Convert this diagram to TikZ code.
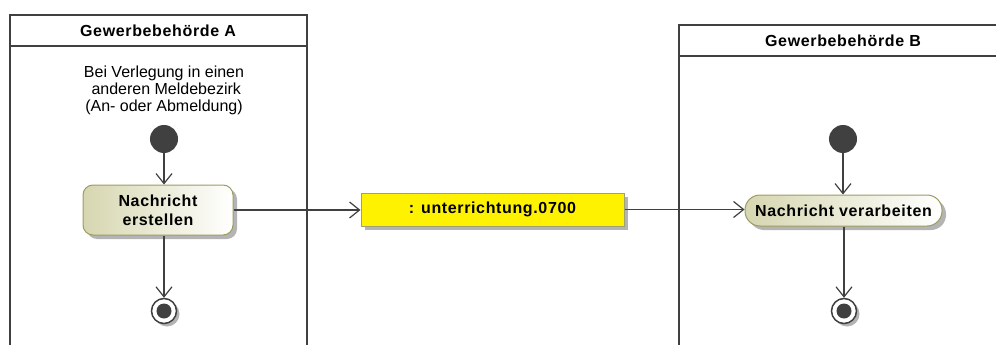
\documentclass[tikz,border=0pt]{standalone}
\usepackage{fontspec}
\setmainfont{Liberation Sans}
\newfontfamily\wideSans[LetterSpace=4]{Liberation Sans}
\usetikzlibrary{arrows.meta,shadows}

\definecolor{lanegray}{HTML}{404040}
\definecolor{actionfill}{HTML}{D6D6B0}
\definecolor{actionborder}{HTML}{9C9C64}
\definecolor{objectborder}{HTML}{A0A070}
\definecolor{shadowgray}{HTML}{B4B4B4}

\begin{document}
\begin{tikzpicture}[x=1pt, y=-1pt,
    lane/.style={draw=lanegray, line width=2.5pt},
    lanetitle/.style={font=\wideSans\bfseries\fontsize{16}{17}\selectfont},
    startnode/.style={circle, fill=lanegray, minimum size=28pt, inner sep=0pt},
    endnode/.style={circle, draw=lanegray, line width=1.5pt, fill=white, minimum size=25pt, inner sep=0pt,
      drop shadow={shadow xshift=3pt, shadow yshift=-3pt, fill=shadowgray, opacity=1},
      path picture={\fill[lanegray] (path picture bounding box.center) circle (7.5pt);}},
    action/.style={draw=actionborder, line width=1pt, left color=actionfill, right color=white,
      align=center, inner sep=0pt, font=\wideSans\bfseries\fontsize{16}{19}\selectfont,
      drop shadow={shadow xshift=4pt, shadow yshift=-4pt, fill=shadowgray, opacity=1}},
    objectbox/.style={draw=objectborder, line width=1pt, fill=yellow, inner sep=0pt,
      font=\wideSans\bfseries\fontsize{16}{17}\selectfont,
      drop shadow={shadow xshift=4pt, shadow yshift=-4pt, fill=shadowgray, opacity=1}},
    flow/.style={draw=lanegray, line width=1.2pt, -{Straight Barb[length=10pt, width=16pt, line width=1.2pt]}}]
  \useasboundingbox (0,0) rectangle (996,345);

  % swimlanes
  \draw[lane] (10,346) -- (10,15) -- (307,15) -- (307,346);
  \draw[lane] (10,46) -- (307,46);
  \node[lanetitle] (titleA) at (158,31) {Gewerbebehörde A};
  \draw[lane] (679,346) -- (679,25) -- (998,25);
  \draw[lane] (679,56) -- (998,56);
  \node[lanetitle] (titleB) at (843,41) {Gewerbebehörde B};

  % Gewerbebehoerde A
  \node[align=center, font=\fontsize{16}{17}\selectfont] (noteA) at (164,90)
    {Bei Verlegung in einen\\\ anderen Meldebezirk\\(An- oder Abmeldung)};
  \node[startnode] (startA) at (164,139) {};
  \node[action, rounded corners=10pt, minimum width=150pt, minimum height=50pt] (actA) at (158,210)
    {Nachricht\\erstellen};
  \node[endnode] (endA) at (164,311) {};

  % message
  \node[objectbox, minimum width=263pt, minimum height=33pt] (msg) at (492.5,209.5) {: unterrichtung.0700};

  % Gewerbebehoerde B
  \node[startnode] (startB) at (843,139) {};
  \node[action, rounded corners=15pt, minimum width=197pt, minimum height=31pt] (actB) at (843.5,210.5)
    {Nachricht verarbeiten};
  \node[endnode] (endB) at (844,311) {};

  % flows
  \draw[flow] (startA) -- (startA |- actA.north);
  \draw[flow] (actA.south -| endA) -- (endA);
  \draw[flow] (actA.east) -- (msg.west |- actA.east);
  \draw[flow] (msg.east) -- (actB.west |- msg.east);
  \draw[flow] (startB) -- (startB |- actB.north);
  \draw[flow] (actB.south -| endB) -- (endB);
\end{tikzpicture}
\end{document}
